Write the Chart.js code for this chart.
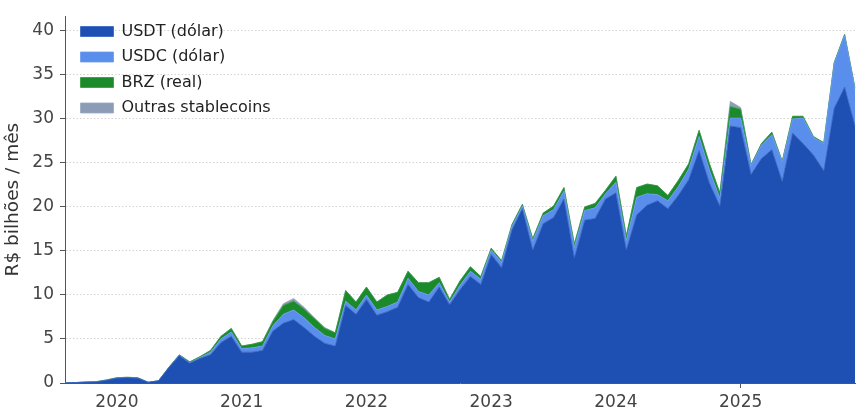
<!DOCTYPE html>
<html>
<head>
<meta charset="utf-8">
<script src="https://cdn.jsdelivr.net/npm/chart.js@4"></script>
<style>
  html, body { margin: 0; padding: 0; background: #fff; }
  #wrap { width: 860px; height: 417px; }
</style>
</head>
<body>
<div id="wrap"><canvas id="stableChart" width="860" height="417"></canvas></div>
<script>
// ---------- data (R$ bilhões / mês) ---------- //
const months = [
  "2019-08","2019-09","2019-10","2019-11","2019-12",
  "2020-01","2020-02","2020-03","2020-04","2020-05","2020-06","2020-07","2020-08","2020-09","2020-10","2020-11","2020-12",
  "2021-01","2021-02","2021-03","2021-04","2021-05","2021-06","2021-07","2021-08","2021-09","2021-10","2021-11","2021-12",
  "2022-01","2022-02","2022-03","2022-04","2022-05","2022-06","2022-07","2022-08","2022-09","2022-10","2022-11","2022-12",
  "2023-01","2023-02","2023-03","2023-04","2023-05","2023-06","2023-07","2023-08","2023-09","2023-10","2023-11","2023-12",
  "2024-01","2024-02","2024-03","2024-04","2024-05","2024-06","2024-07","2024-08","2024-09","2024-10","2024-11","2024-12",
  "2025-01","2025-02","2025-03","2025-04","2025-05","2025-06","2025-07","2025-08","2025-09","2025-10","2025-11","2025-12"
];

const usdt = [
  0.02, 0.05, 0.1, 0.12, 0.3,
  0.55, 0.6, 0.55, 0.08, 0.25, 1.75, 3.1, 2.25, 2.8, 3.2, 4.6, 5.3,
  3.5, 3.5, 3.7, 5.9, 6.8, 7.2, 6.3, 5.3, 4.5, 4.2, 8.8, 7.8,
  9.5, 7.7, 8.1, 8.6, 11.2, 9.7, 9.2, 10.9, 8.9, 10.6, 12.1, 11.2,
  14.6, 13.1, 17.4, 19.8, 15.1, 18.1, 18.8, 20.9, 14.2, 18.5, 18.7, 20.9,
  21.6, 15.1, 19.1, 20.2, 20.7, 19.8, 21.3, 23.1, 26.4, 22.7, 20.1, 29.2,
  29.0, 23.7, 25.5, 26.5, 22.9, 28.4, 27.2, 25.9, 24.1, 31.2, 33.6, 29.2
];
const usdc = [
  0, 0, 0, 0, 0,
  0, 0, 0, 0, 0, 0, 0.05, 0.05, 0.1, 0.3, 0.4, 0.5,
  0.4, 0.5, 0.5, 0.6, 1.0, 1.1, 1.1, 1.0, 0.9, 0.8, 0.5, 0.5,
  0.5, 0.6, 0.6, 0.6, 0.7, 0.7, 0.8, 0.5, 0.3, 0.5, 0.6, 0.6,
  0.5, 0.6, 0.4, 0.3, 1.0, 0.9, 0.9, 0.9, 1.2, 1.1, 1.2, 0.6,
  1.2, 1.1, 2.0, 1.3, 0.7, 0.9, 1.0, 1.2, 1.6, 1.5, 0.9, 0.9,
  1.1, 1.0, 1.5, 1.7, 2.2, 1.6, 2.9, 2.0, 3.1, 5.1, 5.9, 4.2
];
const brz = [
  0, 0, 0, 0.03, 0.05,
  0.05, 0.05, 0.05, 0, 0, 0.05, 0.05, 0.1, 0.1, 0.2, 0.3, 0.4,
  0.3, 0.4, 0.5, 0.5, 1.0, 1.0, 1.0, 1.0, 0.8, 0.7, 1.2, 0.9,
  0.9, 0.9, 1.3, 1.1, 0.8, 1.0, 1.4, 0.6, 0.3, 0.5, 0.5, 0.3,
  0.2, 0.2, 0.2, 0.2, 0.3, 0.3, 0.4, 0.4, 0.4, 0.4, 0.5, 0.4,
  0.7, 0.5, 1.1, 1.1, 1.0, 0.6, 0.7, 0.6, 0.7, 0.7, 0.6, 1.3,
  1.0, 0.1, 0.2, 0.3, 0.1, 0.3, 0.2, 0.1, 0.1, 0.1, 0.1, 0.1
];
const outras = [
  0, 0, 0, 0, 0,
  0, 0, 0, 0, 0, 0, 0, 0, 0, 0, 0, 0,
  0, 0, 0, 0.1, 0.2, 0.3, 0.2, 0.1, 0.1, 0, 0, 0,
  0, 0, 0, 0, 0, 0, 0, 0, 0, 0, 0, 0,
  0, 0, 0, 0, 0, 0, 0, 0, 0, 0, 0, 0,
  0, 0, 0, 0, 0, 0, 0, 0, 0, 0, 0, 0.6,
  0.2, 0, 0, 0, 0, 0, 0, 0, 0, 0, 0, 0
];

const yTicks = [0, 5, 10, 15, 20, 25, 30, 35, 40];

const isYearStart = (i) => months[i] !== undefined && months[i].endsWith("-01");

// nudge the in-plot legend a bit away from the axes
const legendOffset = {
  id: "legendOffset",
  afterLayout(chart) {
    chart.legend.left += 6;
    chart.legend.top += 14;
  },
};

// ---------- Chart.js Setup ---------- //
const ctx = document.getElementById("stableChart").getContext("2d");
const stableChart = new Chart(ctx, {
  type: "line",
  data: {
    labels: months,
    datasets: [
      { label: "USDT (dólar)", data: usdt, backgroundColor: "#1e4fb3", borderColor: "#3562c0", fill: "origin" },
      { label: "USDC (dólar)", data: usdc, backgroundColor: "#5a8eec", borderColor: "#6b9aee", fill: "-1" },
      { label: "BRZ (real)", data: brz, backgroundColor: "#1b8a2b", borderColor: "#2f9a3c", fill: "-1" },
      { label: "Outras stablecoins", data: outras, backgroundColor: "#8c9cb6", borderColor: "#9aa8bf", fill: "-1" },
    ],
  },
  options: {
    responsive: false,
    animation: false,
    layout: { padding: { top: 8, right: 5, left: 0, bottom: 0 } },
    elements: {
      point: { radius: 0 },
      line: { tension: 0, borderWidth: 0.8 },
    },
    plugins: {
      tooltip: { enabled: false },
      legend: {
        position: "chartArea",
        align: "start",
        labels: {
          boxWidth: 33,
          boxHeight: 10,
          padding: 9.5,
          color: "#222",
          font: { family: "DejaVu Sans", size: 16 },
        },
      },
    },
    scales: {
      x: {
        type: "category",
        offset: false,
        grid: {
          display: true,
          drawOnChartArea: false,
          drawTicks: true,
          tickLength: 5,
          tickColor: (c) => (isYearStart(c.index) ? "#555" : "rgba(0,0,0,0)"),
        },
        border: { display: true, color: "#555", width: 1 },
        ticks: {
          autoSkip: false,
          maxRotation: 0,
          padding: 4,
          color: "#444",
          font: { family: "DejaVu Sans", size: 17 },
          callback: (v, i) => (isYearStart(i) ? months[i].slice(0, 4) : null),
        },
        afterFit: (s) => { s.height = 34; },
      },
      y: {
        stacked: true,
        min: 0,
        max: 41.67,
        afterBuildTicks: (s) => { s.ticks = yTicks.map((v) => ({ value: v })); },
        grid: {
          color: "#c8c8c8",
          lineWidth: 0.8,
          tickLength: 5,
          tickColor: "#555",
          tickWidth: 1,
          tickBorderDash: [],
        },
        border: { display: true, color: "#555", width: 1, dash: [1.5, 2] },
        ticks: {
          padding: 6,
          color: "#444",
          font: { family: "DejaVu Sans", size: 17 },
        },
        title: {
          display: true,
          text: "R$ bilhões / mês",
          color: "#333",
          font: { family: "DejaVu Sans", size: 18.5 },
          padding: { top: 2, bottom: 0 },
        },
        afterFit: (s) => { s.width = 65; },
      },
    },
  },
  plugins: [legendOffset],
});
</script>
</body>
</html>
